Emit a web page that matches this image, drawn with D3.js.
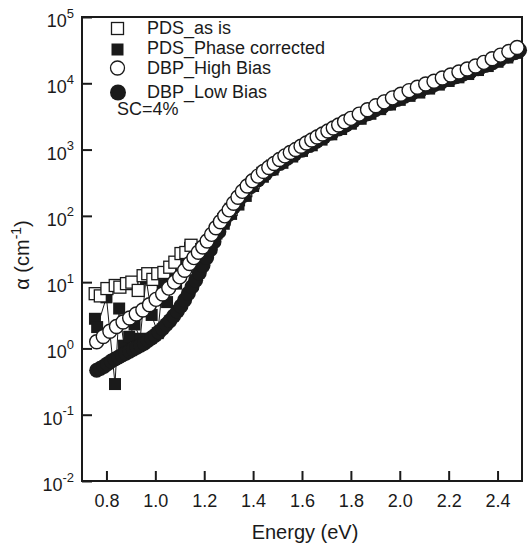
<!DOCTYPE html>
<html>
<head>
<meta charset="utf-8">
<script src="https://cdn.jsdelivr.net/npm/d3@7"></script>
<style>
  body { margin: 0; background: #fff; }
  svg { display: block; font-family: "Liberation Sans", Arial, Helvetica, sans-serif; }
</style>
</head>
<body>
<svg id="chart" width="528" height="547"></svg>
<script>
// PDS_as is (open squares)
const pdsAsIsE = [0.754, 0.775, 0.802, 0.836, 0.855, 0.882, 0.904, 0.930, 0.950, 0.969, 0.990, 1.010, 1.035, 1.059, 1.080, 1.105, 1.125, 1.146,
  1.19, 1.22, 1.25, 1.28, 1.31, 1.34, 1.37, 1.40, 1.44, 1.48, 1.52, 1.56, 1.60, 1.64, 1.68, 1.72, 1.76, 1.80, 1.84, 1.88, 1.92, 1.96,
  2.00, 2.04, 2.08, 2.12, 2.16, 2.20, 2.24, 2.28, 2.32, 2.36, 2.40, 2.44, 2.48];
const pdsAsIsA = [6.7, 6.2, 8.0, 8.9, 8.4, 9.5, 10.0, 7.5, 12.5, 13.4, 11, 13.4, 14, 16.8, 20, 27, 28, 36,
  31, 41, 62, 88, 125, 175, 240, 316, 437, 562, 708, 881, 1072, 1303, 1585, 1905, 2291, 2754, 3273, 3890, 4571, 5370,
  6310, 7244, 8128, 9120, 10500, 11900, 13500, 15100, 17400, 20000, 23100, 26900, 31600];

// PDS_Phase corrected (filled squares)
const pdsPhaseE = [0.753, 0.762, 0.800, 0.835, 0.852, 0.872, 0.893, 0.915, 0.938, 0.962, 0.985, 1.010, 1.030, 1.048, 1.065, 1.085, 1.105, 1.125, 1.142, 1.165,
  1.19, 1.22, 1.25, 1.28, 1.31, 1.34, 1.37, 1.40, 1.44, 1.48, 1.52, 1.56, 1.60, 1.64, 1.68, 1.72, 1.76, 1.80, 1.84, 1.88, 1.92, 1.96,
  2.00, 2.04, 2.08, 2.12, 2.16, 2.20, 2.24, 2.28, 2.32, 2.36, 2.40, 2.44, 2.48];
const pdsPhaseA = [2.8, 2.1, 5.9, 0.29, 4.0, 1.1, 1.5, 2.3, 1.4, 11.5, 3.2, 1.7, 9.3, 5.0, 15, 9.5, 19, 22, 33, 24,
  27, 35, 54, 76, 107, 148, 200, 282, 389, 501, 631, 785, 955, 1161, 1413, 1698, 2042, 2455, 2917, 3467, 4074, 4786,
  5623, 6457, 7244, 8318, 9550, 10840, 12300, 13800, 15850, 18200, 21100, 24500, 28800];

// DBP_High Bias (open circles)
const dbpHighE = [0.760, 0.787, 0.814, 0.841, 0.868, 0.895, 0.922, 0.949, 0.976, 1.003, 1.030, 1.055, 1.078, 1.100, 1.120, 1.140, 1.158, 1.176, 1.194,
  1.212, 1.230, 1.248, 1.266, 1.284, 1.302, 1.320, 1.338, 1.356, 1.376, 1.398, 1.420, 1.442, 1.464, 1.486, 1.508, 1.530, 1.552, 1.574,
  1.596, 1.618, 1.640, 1.662, 1.684, 1.706, 1.728, 1.750, 1.774, 1.800, 1.834, 1.868, 1.902, 1.936, 1.970, 2.004, 2.038, 2.072,
  2.106, 2.140, 2.174, 2.208, 2.242, 2.276, 2.310, 2.344, 2.378, 2.412, 2.446, 2.480];
const dbpHighA = [1.26, 1.51, 1.82, 2.14, 2.51, 2.88, 3.31, 3.80, 4.57, 5.50, 6.61, 8.13, 10.0, 12.0, 15.1, 19.1, 23.4, 28.2, 33.9,
  41.7, 52.5, 66.1, 81.3, 100, 123, 155, 191, 234, 282, 339, 398, 468, 537, 617, 708, 804, 902, 1000,
  1122, 1259, 1396, 1549, 1718, 1905, 2113, 2344, 2630, 2951, 3428, 3981, 4571, 5248, 6026, 6839, 7762, 8710,
  9772, 10715, 12023, 13335, 14791, 16406, 18197, 20654, 23442, 26607, 30200, 34674];

// DBP_Low Bias (filled circles)
const dbpLowE = [0.760, 0.775, 0.790, 0.805, 0.820, 0.835, 0.850, 0.865, 0.880, 0.895, 0.910, 0.925, 0.940, 0.955, 0.970, 0.985,
  1.000, 1.015, 1.030, 1.045, 1.060, 1.075, 1.090, 1.105, 1.120, 1.135, 1.150, 1.165, 1.180, 1.195, 1.210, 1.225, 1.240,
  1.260, 1.280, 1.300, 1.320, 1.340, 1.360, 1.390, 1.420, 1.450, 1.480, 1.510, 1.540, 1.570, 1.600, 1.630, 1.660, 1.690,
  1.720, 1.750, 1.780, 1.810, 1.840, 1.870, 1.900, 1.930, 1.960, 1.990, 2.020, 2.050, 2.080, 2.110, 2.140, 2.170, 2.200,
  2.230, 2.260, 2.290, 2.320, 2.350, 2.380, 2.410, 2.440, 2.470, 2.490];
const dbpLowA = [0.468, 0.501, 0.537, 0.589, 0.646, 0.692, 0.741, 0.794, 0.851, 0.912, 0.977, 1.047, 1.122, 1.202, 1.318, 1.445,
  1.585, 1.778, 1.995, 2.291, 2.630, 3.090, 3.631, 4.365, 5.370, 6.761, 8.511, 10.72, 13.80, 17.78, 23.44, 30.90, 40.74,
  57.54, 81.28, 104.7, 135, 170, 204, 275, 347, 427, 513, 617, 741, 851, 977, 1148, 1334, 1549,
  1778, 2042, 2344, 2692, 3090, 3467, 3981, 4467, 5012, 5689, 6383, 7079, 7852, 8710, 9550, 10471, 11482,
  12589, 13804, 15136, 16596, 18621, 20417, 22909, 25704, 28840, 31623];

const xTicks = [0.8, 1.0, 1.2, 1.4, 1.6, 1.8, 2.0, 2.2, 2.4];
const yTicks = [1e-2, 1e-1, 1e0, 1e1, 1e2, 1e3, 1e4, 1e5];
const legendLabels = ["PDS_as is", "PDS_Phase corrected", "DBP_High Bias", "DBP_Low Bias"];

const ink = "#1a1a1a";
const svg = d3.select("#chart");

const x = d3.scaleLinear().domain([0.7, 2.5]).range([82, 522]);
const y = d3.scaleLog().domain([1e-2, 1e5]).range([481, 17]);

const zip = (es, as) => es.map((e, i) => ({ e: e, a: as[i] }));

// axes with inward ticks
const xAxis = svg.append("g")
  .attr("transform", "translate(0,481)")
  .call(d3.axisBottom(x).tickValues(xTicks).tickSize(-10).tickPadding(13).tickFormat(d3.format(".1f")));
xAxis.select(".domain").remove();
xAxis.selectAll(".tick line").attr("stroke", ink).attr("stroke-width", 2);
xAxis.selectAll(".tick text").attr("fill", ink).style("font-size", "18px")
  .style("font-family", "'Liberation Sans', Arial, sans-serif");

const yAxis = svg.append("g")
  .attr("transform", "translate(82,0)")
  .call(d3.axisLeft(y).tickValues(yTicks).tickSize(-10).tickPadding(8));
yAxis.select(".domain").remove();
yAxis.selectAll(".tick line").attr("stroke", ink).attr("stroke-width", 2);
yAxis.selectAll(".tick text")
  .text(null)
  .attr("dy", null)
  .attr("y", 9.5)
  .attr("fill", ink)
  .style("font-size", "18px")
  .style("font-family", "'Liberation Sans', Arial, sans-serif")
  .each(function(d) {
    const t = d3.select(this);
    t.append("tspan").text("10");
    t.append("tspan").attr("dy", -9.5).style("font-size", "13px").text(Math.round(Math.log10(d)));
  });

// frame
svg.append("rect")
  .attr("x", 82).attr("y", 17).attr("width", 440).attr("height", 464)
  .attr("fill", "none").attr("stroke", ink).attr("stroke-width", 2);

// axis titles
svg.append("text")
  .attr("x", 305).attr("y", 539)
  .attr("text-anchor", "middle")
  .style("font-size", "20px").attr("fill", ink)
  .text("Energy (eV)");

const yTitle = svg.append("text")
  .attr("transform", "translate(29,255) rotate(-90)")
  .attr("text-anchor", "middle")
  .style("font-size", "20px").attr("fill", ink);
yTitle.append("tspan").text("\u03b1 (cm");
yTitle.append("tspan").attr("dy", -8).style("font-size", "14px").text("-1");
yTitle.append("tspan").attr("dy", 8).text(")");

// PDS_Phase corrected: thin connecting line + filled squares
const line = d3.line().x(d => x(d.e)).y(d => y(d.a));
const phaseData = zip(pdsPhaseE, pdsPhaseA);
svg.append("path")
  .datum(phaseData)
  .attr("d", line)
  .attr("fill", "none").attr("stroke", ink).attr("stroke-width", 1);
svg.append("g").selectAll("rect")
  .data(phaseData).enter().append("rect")
  .attr("x", d => x(d.e) - 6).attr("y", d => y(d.a) - 6)
  .attr("width", 12).attr("height", 12)
  .attr("fill", ink);

// PDS_as is: open squares
svg.append("g").selectAll("rect")
  .data(zip(pdsAsIsE, pdsAsIsA)).enter().append("rect")
  .attr("x", d => x(d.e) - 6).attr("y", d => y(d.a) - 6)
  .attr("width", 12).attr("height", 12)
  .attr("fill", "#fff").attr("stroke", ink).attr("stroke-width", 1.3);

// DBP_Low Bias: filled circles
svg.append("g").selectAll("circle")
  .data(zip(dbpLowE, dbpLowA)).enter().append("circle")
  .attr("cx", d => x(d.e)).attr("cy", d => y(d.a)).attr("r", 7.5)
  .attr("fill", ink);

// DBP_High Bias: open circles
svg.append("g").selectAll("circle")
  .data(zip(dbpHighE, dbpHighA)).enter().append("circle")
  .attr("cx", d => x(d.e)).attr("cy", d => y(d.a)).attr("r", 7)
  .attr("fill", "#fff").attr("stroke", ink).attr("stroke-width", 1.4);

// legend
const lg = svg.append("g");
lg.append("rect").attr("x", 111.5).attr("y", 22.5).attr("width", 12).attr("height", 12)
  .attr("fill", "#fff").attr("stroke", ink).attr("stroke-width", 1.3);
lg.append("rect").attr("x", 111.5).attr("y", 43.5).attr("width", 12).attr("height", 12)
  .attr("fill", ink);
lg.append("circle").attr("cx", 117.5).attr("cy", 68).attr("r", 7)
  .attr("fill", "#fff").attr("stroke", ink).attr("stroke-width", 1.3);
lg.append("circle").attr("cx", 118).attr("cy", 92.5).attr("r", 8)
  .attr("fill", ink);
const legendBaselines = [34, 54, 74, 98];
lg.selectAll("text.lab")
  .data(legendLabels).enter().append("text")
  .attr("class", "lab")
  .attr("x", 147).attr("y", (d, i) => legendBaselines[i])
  .style("font-size", "18px").attr("fill", ink)
  .text(d => d);
lg.append("text")
  .attr("x", 117).attr("y", 115)
  .style("font-size", "18px").attr("fill", ink)
  .text("SC=4%");
</script>
</body>
</html>
